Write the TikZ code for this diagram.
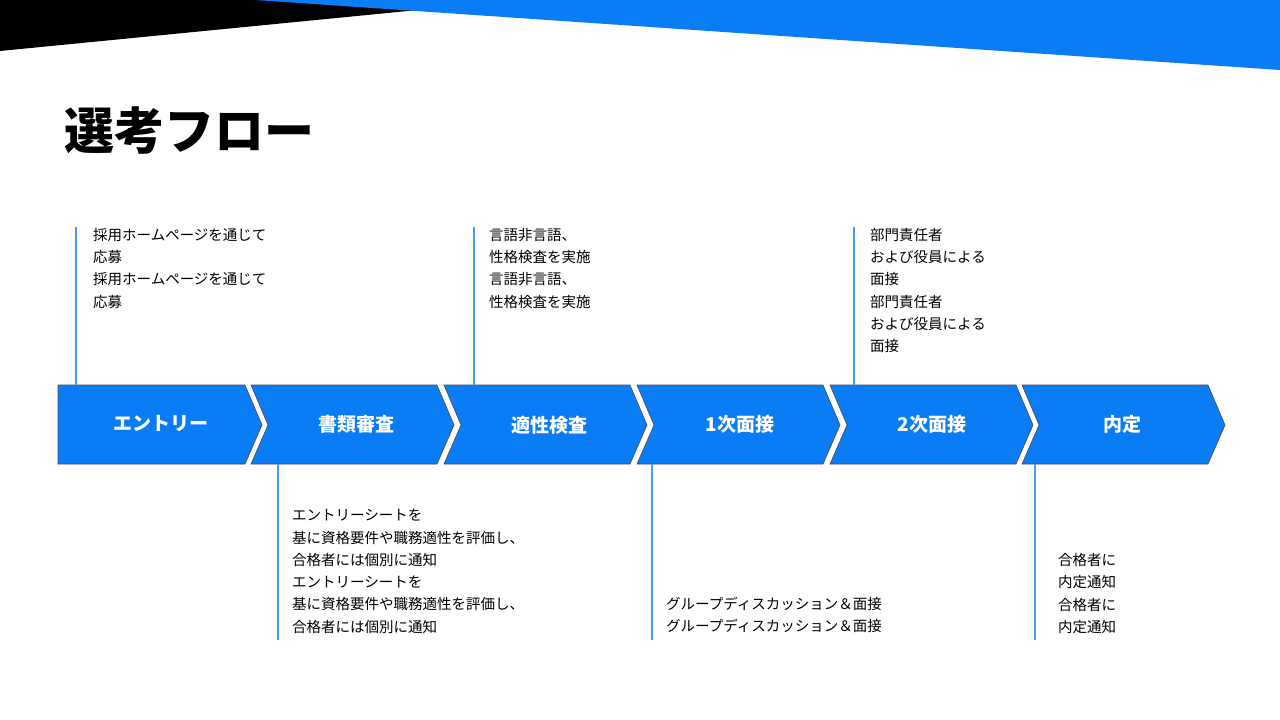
\documentclass[tikz,border=0pt]{standalone}
\usepackage{fontspec}
\setmainfont{Noto Sans CJK JP}
\newfontfamily\jpb{Noto Sans CJK JP Black}
\definecolor{mblue}{HTML}{0A7CF5}
\definecolor{lblue}{HTML}{4A9EEA}
\begin{document}
\begin{tikzpicture}[x=1pt,y=-1pt,
  chev/.style={fill=mblue,draw=black!70,line width=0.6pt},
  lab/.style={text=white,font=\fontsize{19}{22}\selectfont\bfseries},
  body/.style={anchor=north west,align=left,font=\fontsize{14.5}{22.3}\selectfont,inner sep=0pt},
  vline/.style={draw=lblue,line width=1.5pt}]
\useasboundingbox (0,0) rectangle (1280,720);
\fill[white] (0,0) rectangle (1280,720);
\fill[black] (0,0) -- (520,0) -- (0,51) -- cycle;
\fill[mblue] (255,0) -- (1280,0) -- (1280,70) -- cycle;
\node[anchor=west,inner sep=0pt,font=\fontsize{50}{56}\selectfont\bfseries] (title) at (64,131) {選考フロー};
% chevrons
\draw[chev] (58,385) -- (245,385) -- (262,425) -- (245,464) -- (58,464) -- cycle;
\foreach \x in {251,444,637,830,1022}{
  \draw[chev] (\x,385) -- (\x+186,385) -- (\x+203,425) -- (\x+186,464) -- (\x,464) -- (\x+17,425) -- cycle;}
\node[lab] (c1) at (161,424) {エントリー};
\node[lab] (c2) at (356,424) {書類審査};
\node[lab] (c3) at (549,425) {適性検査};
\node[lab] (c4) at (740,424) {1次面接};
\node[lab] (c5) at (932,424) {2次面接};
\node[lab] (c6) at (1122,424) {内定};
% lines
\coordinate (t1) at (76,227); \coordinate (b1) at (76,385);
\coordinate (t3) at (474,227); \coordinate (b3) at (474,385);
\coordinate (t5) at (854,227); \coordinate (b5) at (854,385);
\coordinate (u2) at (278,464); \coordinate (d2) at (278,640);
\coordinate (u4) at (652,464); \coordinate (d4) at (652,640);
\coordinate (u6) at (1035,464); \coordinate (d6) at (1035,640);
\draw[vline] (t1)--(b1); \draw[vline] (t3)--(b3); \draw[vline] (t5)--(b5);
\draw[vline] (u2)--(d2); \draw[vline] (u4)--(d4); \draw[vline] (u6)--(d6);
% texts
\node[body] (x1) at (93,228) {採用ホームページを通じて\\応募\\採用ホームページを通じて\\応募};
\node[body] (x3) at (489,228) {言語非言語、\\性格検査を実施\\言語非言語、\\性格検査を実施};
\node[body] (x5) at (870,228) {部門責任者\\および役員による\\面接\\部門責任者\\および役員による\\面接};
\node[body] (x2) at (292,509) {エントリーシートを\\基に資格要件や職務適性を評価し、\\合格者には個別に通知\\エントリーシートを\\基に資格要件や職務適性を評価し、\\合格者には個別に通知};
\node[body] (x4) at (666,597) {グループディスカッション＆面接\\グループディスカッション＆面接};
\node[body] (x6) at (1058,553) {合格者に\\内定通知\\合格者に\\内定通知};
\end{tikzpicture}
\end{document}
